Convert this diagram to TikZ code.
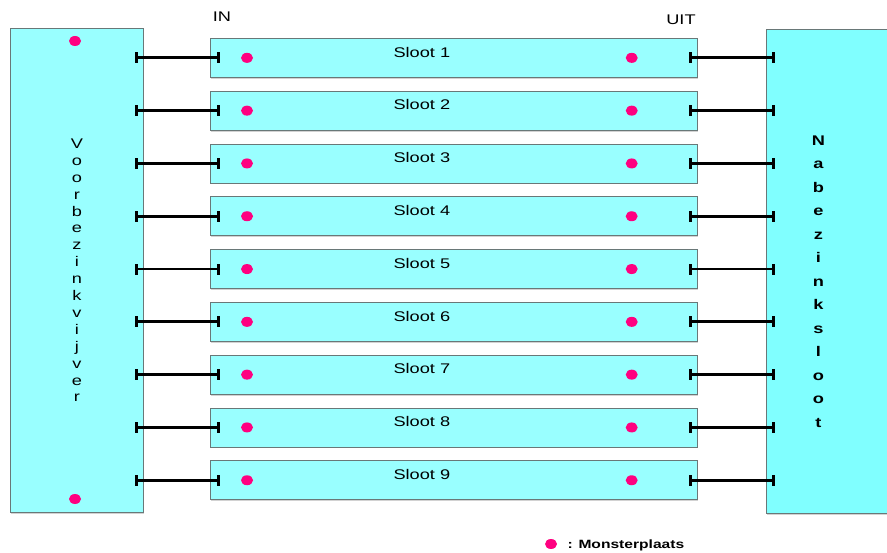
\documentclass[tikz,border=0pt]{standalone}
\usepackage{fontspec}
\setmainfont{Liberation Sans}[FakeStretch=1.3]
\definecolor{vijvercyan}{RGB}{153,255,255}
\definecolor{slootcyan}{RGB}{128,255,255}
\definecolor{monsterpink}{RGB}{255,0,128}
\definecolor{randgrijs}{RGB}{105,120,120}
\usetikzlibrary{arrows.meta,positioning,calc,shapes.geometric,shadows}

\begin{document}
\begin{tikzpicture}[
  x=1pt,y=-1pt,
  every node/.style={font=\fontsize{14}{16}\selectfont},
  bak/.style={draw=randgrijs,line width=0.7pt,inner sep=0pt,anchor=north west,
              drop shadow={shadow xshift=1pt,shadow yshift=-1.5pt,fill=gray!70}},
  slootbox/.style={bak,fill=vijvercyan,minimum width=487pt,minimum height=39pt},
  stip/.style={ellipse,fill=monsterpink,minimum width=12pt,minimum height=10pt,inner sep=0pt},
  pijp/.style={line width=2.8pt,{Rectangle[length=3.5pt,width=11pt]}-{Rectangle[length=3.5pt,width=11pt]}},
]
  \clip (0,0) rectangle (887,553);
  \fill[white] (0,0) rectangle (887,553);

  % Vijver en sloot aan de zijkanten
  \node[bak,fill=vijvercyan,minimum width=133pt,minimum height=484pt] (vbz) at (10,28) {};
  \node[bak,fill=slootcyan,minimum width=140pt,minimum height=484pt] (nbz) at (766,29) {};
  \node[align=center,font=\fontsize{14}{16.9}\selectfont] (vbztxt) at (vbz.center)
    {V\\o\\o\\r\\b\\e\\z\\i\\n\\k\\v\\i\\j\\v\\e\\r};
  \node[align=center,font=\bfseries\fontsize{14}{23.5}\selectfont] (nbztxt) at ($(nbz.center)+(-18,10)$)
    {N\\a\\b\\e\\z\\i\\n\\k\\s\\l\\o\\o\\t};

  % Monsterplaatsen in de vijver
  \node[stip] (vtop) at (75,41) {};
  \node[stip] (vbot) at (75,499) {};

  % Kopjes
  \node (in) at (222,17) {IN};
  \node (uit) at (681,20) {UIT};

  % Sloten met aan- en afvoer
  \foreach \i in {1,...,9} {
    \pgfmathsetmacro\ytop{38+(\i-1)*52.8}
    \node[slootbox] (s\i) at (210,\ytop) {};
    \node (t\i) at ($(s\i.north)+(-32,14)$) {Sloot \i};
    \node[stip] (in\i) at ($(s\i.west)+(37,0)$) {};
    \node[stip] (uit\i) at ($(s\i.east)+(-66,0)$) {};
    \draw[pijp] ($(vbz.east |- s\i.west)+(-9,0)$) -- ($(s\i.west)+(10,0)$);
    \draw[pijp] ($(s\i.east)+(-9,0)$) -- ($(nbz.west |- s\i.east)+(9,0)$);
  }

  % Legenda
  \node[stip] (leg) at (551,544) {};
  \node[anchor=west,font=\bfseries\fontsize{12}{14}\selectfont] (legtxt) at (564,545) {: Monsterplaats};
\end{tikzpicture}
\end{document}
